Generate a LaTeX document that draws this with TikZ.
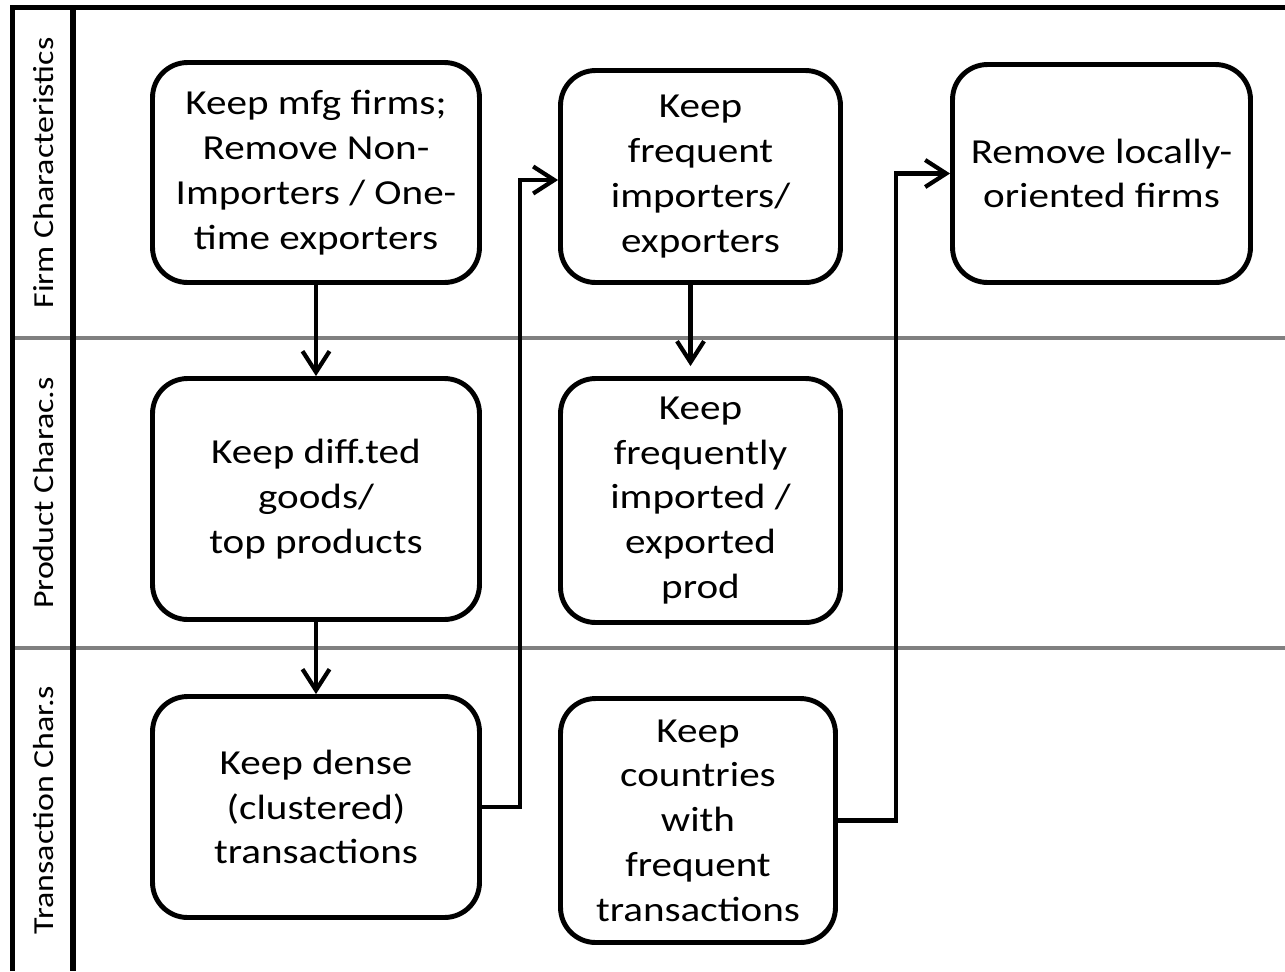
\documentclass[tikz,border=0pt]{standalone}
\usepackage{fontspec}
\setmainfont{Carlito}[FakeStretch=1.17]
\usetikzlibrary{arrows.meta,calc}

\begin{document}
\begin{tikzpicture}[
  x=0.02cm, y=-0.02cm,
  step box/.style={draw, line width=2.8pt, rounded corners=0.7cm, align=center,
    font=\fontsize{20}{25.5}\selectfont, inner sep=2pt},
  lane label/.style={rotate=90, font=\fontsize{16.5}{20}\selectfont},
  lane line/.style={line width=1.8pt, black!50},
  frame/.style={line width=3pt},
  flow/.style={-{Straight Barb[length=0.42cm, width=0.54cm, line width=2.4pt]},
    line width=2.3pt}
]
  \useasboundingbox (0,0) rectangle (1285,971);

  % swimlanes
  \draw[lane line] (12,338) -- (1285,338);
  \draw[lane line] (12,648) -- (1285,648);
  \draw[frame] (12.5,971) -- (12.5,7.5) -- (1285,7.5);
  \draw[frame] (73,7.5) -- (73,971);
  \node[lane label] (firmlane) at (44,173) {Firm Characteristics};
  \node[lane label] (prodlane) at (44,493) {Product Charac.s};
  \node[lane label] (translane) at (44,810) {Transaction Char.s};

  % filtering steps
  \node[step box, minimum width=6.54cm, minimum height=4.4cm] (mfg) at (316,172.5)
    {Keep mfg firms;\\Remove Non-\\Importers / One-\\time exporters};
  \node[step box, minimum width=5.6cm, minimum height=4.24cm] (freqfirm) at (700.5,176.5)
    {Keep\\frequent\\importers/\\exporters};
  \node[step box, minimum width=5.96cm, minimum height=4.36cm] (local) at (1101.5,173.5)
    {Remove locally-\\oriented firms};
  \node[step box, minimum width=6.54cm, minimum height=4.82cm] (diffgoods) at (316,499)
    {Keep diff.ted\\goods/\\top products};
  \node[step box, minimum width=5.6cm, minimum height=4.88cm] (freqprod) at (700.5,500.5)
    {Keep\\frequently\\imported /\\exported\\prod};
  \node[step box, minimum width=6.54cm, minimum height=4.42cm] (dense) at (316,807)
    {Keep dense\\(clustered)\\transactions};
  \node[step box, minimum width=5.5cm, minimum height=4.88cm] (countries) at (698,820.5)
    {Keep\\countries\\with\\frequent\\transactions};

  \draw[flow] (mfg) -- (diffgoods);
  \draw[flow] (diffgoods) -- (dense);
  \draw[flow] ([xshift=-0.2cm]freqfirm.south) -- ([xshift=-0.2cm,yshift=0.2cm]freqprod.north);
  \draw[flow] (dense.east) -| ($(dense.east)!0.5!(freqfirm.west)$) |- ([yshift=-0.07cm]freqfirm.west);
  \draw[flow] (countries.east) -| ($(countries.east)!0.52!(local.west)$) |- (local.west);
\end{tikzpicture}
\end{document}
